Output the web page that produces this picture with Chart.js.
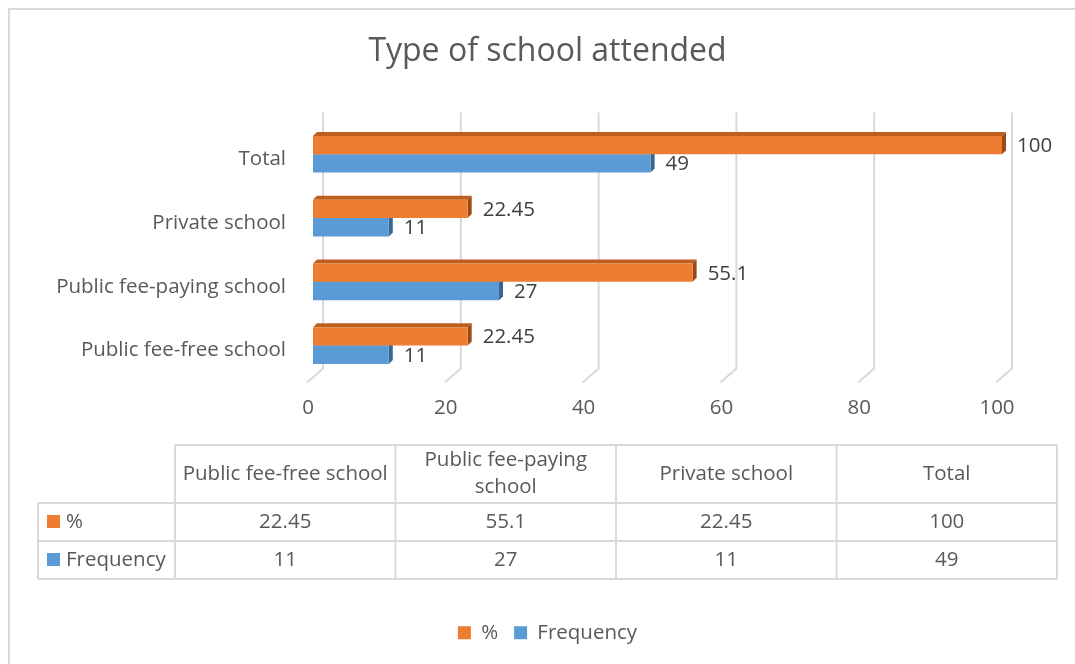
<!DOCTYPE html>
<html lang="en">
  <head>
    <meta charset="UTF-8" />
    <title>Type of school attended</title>
    <style>
      body {
        margin: 0;
        background: white;
      }

      .chart-wrap {
        position: relative;
        width: 1075px;
        height: 664px;
      }
    </style>
  </head>
  <body>
    <div class="chart-wrap">
      <canvas id="schoolChart"></canvas>
    </div>

    <script src="https://cdn.jsdelivr.net/npm/chart.js"></script>
    <script>
      // Survey data
      const categories = [
        "Public fee-free school",
        "Public fee-paying school",
        "Private school",
        "Total",
      ];
      const percentValues = [22.45, 55.1, 22.45, 100];
      const frequencyValues = [11, 27, 11, 49];
      const seriesNames = ["%", "Frequency"];
      const axisMin = 0;
      const axisMax = 100;
      const axisStep = 20;

      const FONT = "'Open Sans', sans-serif";
      const FONT_SIZE = 20.5;
      const GREY = "#595959";

      const orange = { front: "#ED7D31", top: "#BE5F1F", side: "#9C4A15" };
      const blue = { front: "#5B9BD5", top: "#4A7FB0", side: "#386591" };
      const depth = 4;

      // frame around the whole chart
      const framePlugin = {
        id: "frame",
        beforeDraw(chart) {
          const ctx = chart.ctx;
          ctx.save();
          ctx.fillStyle = "white";
          ctx.fillRect(0, 0, chart.width, chart.height);
          ctx.strokeStyle = "#d9d9d9";
          ctx.lineWidth = 2;
          ctx.strokeRect(9, 9, chart.width + 20, chart.height + 20);
          ctx.restore();
        },
      };

      // gridlines on the back wall with a small floor step, plus bar depth faces
      const depthPlugin = {
        id: "depth",
        beforeDatasetsDraw(chart) {
          const ctx = chart.ctx;
          const xs = chart.scales.x;
          const area = chart.chartArea;
          ctx.save();
          ctx.strokeStyle = "#d9d9d9";
          ctx.lineWidth = 2;
          xs.ticks.forEach((t) => {
            const px = xs.getPixelForValue(t.value);
            ctx.beginPath();
            ctx.moveTo(px + 10, area.top - 10);
            ctx.lineTo(px + 10, area.bottom - 9);
            ctx.lineTo(px - 6, area.bottom + 5);
            ctx.stroke();
          });

          chart.data.datasets.forEach((ds, di) => {
            const pal = di === 0 ? orange : blue;
            chart.getDatasetMeta(di).data.forEach((bar) => {
              const top = bar.y - bar.height / 2;
              const bottom = bar.y + bar.height / 2;
              ctx.fillStyle = pal.top;
              ctx.beginPath();
              ctx.moveTo(bar.base, top);
              ctx.lineTo(bar.base + depth, top - depth);
              ctx.lineTo(bar.x + depth, top - depth);
              ctx.lineTo(bar.x, top);
              ctx.closePath();
              ctx.fill();
              ctx.fillStyle = pal.side;
              ctx.beginPath();
              ctx.moveTo(bar.x, top);
              ctx.lineTo(bar.x + depth, top - depth);
              ctx.lineTo(bar.x + depth, bottom - depth);
              ctx.lineTo(bar.x, bottom);
              ctx.closePath();
              ctx.fill();
            });
          });
          ctx.restore();
        },
        afterDatasetsDraw(chart) {
          // value labels at the bar ends
          const ctx = chart.ctx;
          ctx.save();
          ctx.font = FONT_SIZE + "px " + FONT;
          ctx.fillStyle = "#404040";
          ctx.textAlign = "left";
          ctx.textBaseline = "middle";
          chart.data.datasets.forEach((ds, di) => {
            chart.getDatasetMeta(di).data.forEach((bar, i) => {
              ctx.fillText(String(ds.data[i]), bar.x + 15, bar.y + 1);
            });
          });
          ctx.restore();
        },
      };

      // data table below the axis
      const tablePlugin = {
        id: "dataTable",
        afterDraw(chart) {
          const ctx = chart.ctx;
          const left = 38;
          const labelRight = 175;
          const right = 1057;
          const rows = [445, 503, 541, 579];
          const colW = (right - labelRight) / categories.length;

          ctx.save();
          ctx.strokeStyle = "#d9d9d9";
          ctx.lineWidth = 2;
          ctx.beginPath();
          ctx.moveTo(labelRight, rows[0]);
          ctx.lineTo(right, rows[0]);
          for (let r = 1; r < rows.length; r++) {
            ctx.moveTo(left, rows[r]);
            ctx.lineTo(right, rows[r]);
          }
          ctx.moveTo(left, rows[1]);
          ctx.lineTo(left, rows[3]);
          for (let c = 0; c <= categories.length; c++) {
            const x = labelRight + c * colW;
            ctx.moveTo(x, rows[0]);
            ctx.lineTo(x, rows[3]);
          }
          ctx.stroke();

          ctx.font = FONT_SIZE + "px " + FONT;
          ctx.fillStyle = GREY;
          ctx.textAlign = "center";
          ctx.textBaseline = "middle";

          // header cells, wrapped when too wide
          categories.forEach((name, c) => {
            const cx = labelRight + c * colW + colW / 2;
            const cy = (rows[0] + rows[1]) / 2;
            const lines = [];
            let line = "";
            name.split(" ").forEach((w) => {
              const test = line ? line + " " + w : w;
              if (ctx.measureText(test).width > colW - 8 && line) {
                lines.push(line);
                line = w;
              } else {
                line = test;
              }
            });
            lines.push(line);
            const lh = 27;
            lines.forEach((l, k) => {
              ctx.fillText(l, cx, cy + (k - (lines.length - 1) / 2) * lh);
            });
          });

          // series rows
          const seriesData = [percentValues, frequencyValues];
          const swatches = [orange.front, blue.front];
          seriesNames.forEach((name, s) => {
            const cy = (rows[s + 1] + rows[s + 2]) / 2;
            ctx.fillStyle = swatches[s];
            ctx.fillRect(47, cy - 7, 13, 13);
            ctx.fillStyle = GREY;
            ctx.textAlign = "left";
            ctx.fillText(name, 66, cy);
            ctx.textAlign = "center";
            seriesData[s].forEach((v, c) => {
              ctx.fillText(String(v), labelRight + c * colW + colW / 2, cy);
            });
          });
          ctx.restore();
        },
      };

      Chart.defaults.font.family = FONT;
      Chart.defaults.color = GREY;

      const ctx = document.getElementById("schoolChart").getContext("2d");
      new Chart(ctx, {
        type: "bar",
        data: {
          labels: categories,
          datasets: [
            {
              label: seriesNames[0],
              data: percentValues,
              backgroundColor: orange.front,
              borderWidth: 0,
            },
            {
              label: seriesNames[1],
              data: frequencyValues,
              backgroundColor: blue.front,
              borderWidth: 0,
            },
          ],
        },
        options: {
          indexAxis: "y",
          responsive: true,
          maintainAspectRatio: false,
          animation: false,
          categoryPercentage: 0.575,
          barPercentage: 1,
          layout: {
            padding: { left: 20, right: 0, top: 0, bottom: 11 },
          },
          scales: {
            x: {
              min: axisMin,
              max: axisMax,
              ticks: {
                stepSize: axisStep,
                font: { size: FONT_SIZE },
                color: GREY,
                padding: 18,
                labelOffset: -5,
              },
              grid: { display: false, drawTicks: false },
              border: { display: false },
              afterFit(scale) {
                scale.height = 229;
              },
            },
            y: {
              reverse: true,
              ticks: {
                font: { size: FONT_SIZE },
                color: GREY,
                padding: 27,
                labelOffset: 5,
              },
              grid: { display: false, drawTicks: false },
              border: { display: false },
              afterFit(scale) {
                scale.width = 293;
              },
            },
            // empty right-hand axis that keeps room for the end labels
            yRight: {
              type: "linear",
              position: "right",
              ticks: { display: false },
              grid: { display: false, drawTicks: false },
              border: { display: false },
              afterFit(scale) {
                scale.width = 73;
              },
            },
          },
          plugins: {
            title: {
              display: true,
              text: "Type of school attended",
              color: GREY,
              font: { size: 32, weight: "normal" },
              padding: { top: 33, bottom: 51 },
            },
            legend: {
              position: "bottom",
              labels: {
                boxWidth: 13,
                boxHeight: 13,
                padding: 16,
                color: GREY,
                font: { size: FONT_SIZE },
              },
            },
            tooltip: { enabled: false },
          },
        },
        plugins: [framePlugin, depthPlugin, tablePlugin],
      });
    </script>
  </body>
</html>
